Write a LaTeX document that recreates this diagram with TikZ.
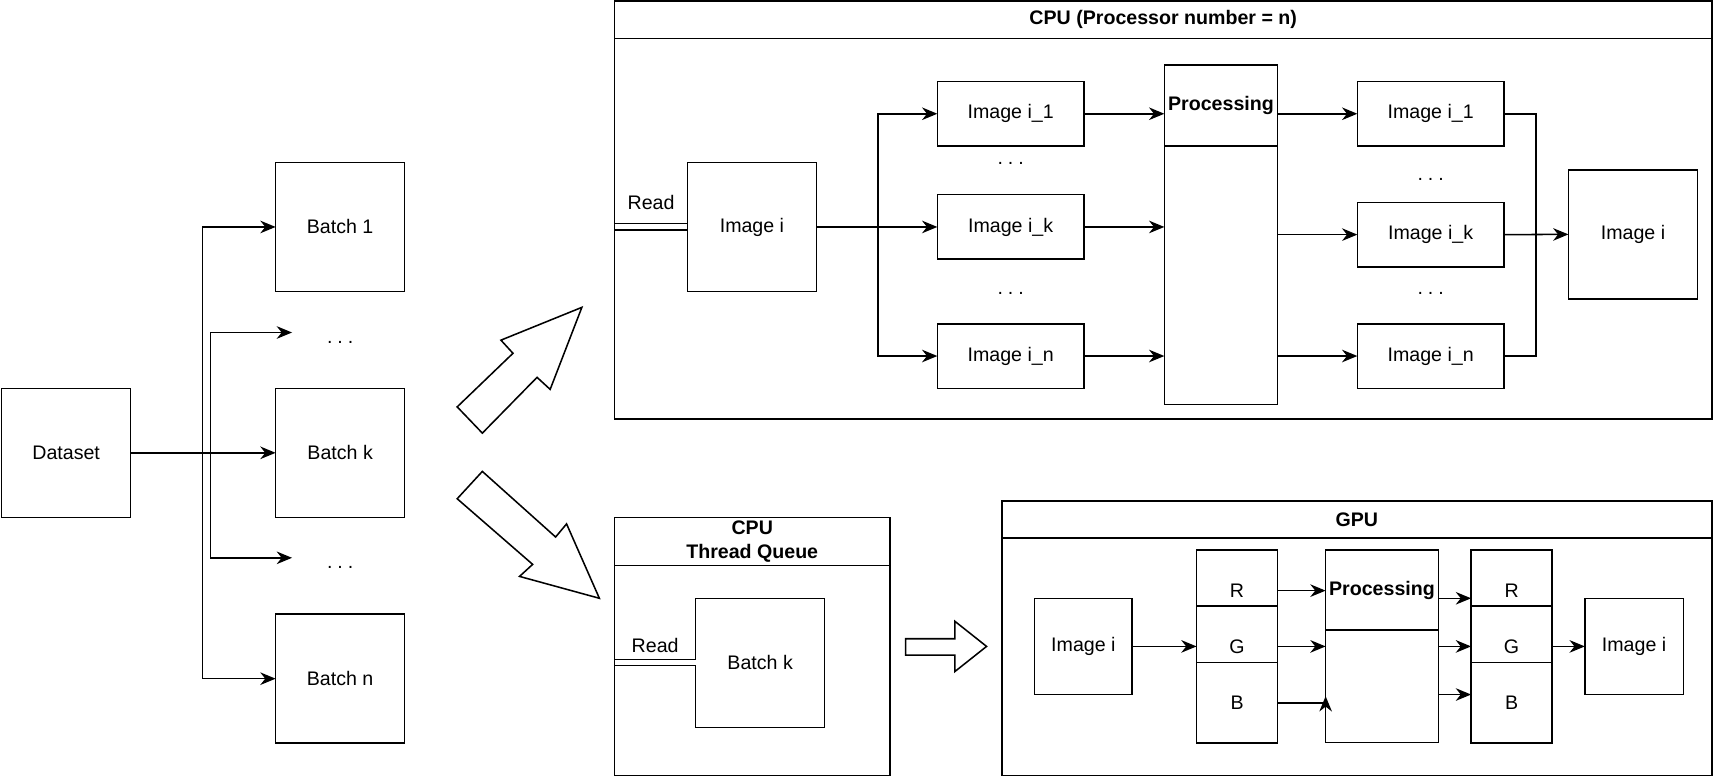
\documentclass[tikz,border=0pt]{standalone}
\usepackage{fontspec}
\setmainfont{Liberation Sans}
\usetikzlibrary{arrows.meta,positioning}
\newcommand{\diafont}{\fontsize{10.2}{12.5}\selectfont}
\newcommand{\threedots}{.\hspace{0.25em}.\hspace{0.25em}.}
\begin{document}
\begin{tikzpicture}[x=0.2mm,y=-0.2mm,
	every path/.style={line width=0.8pt},
	>={Stealth[length=2.8mm,width=2.3mm,inset=0.9mm]},
	box/.style={draw,fill=white,inner sep=0pt,outer sep=0pt,font=\diafont},
	sq/.style={box,minimum width=23.6mm,minimum height=23.6mm},
	slim/.style={box,minimum width=26.8mm,minimum height=11.8mm},
	chan/.style={box,minimum width=14.8mm,minimum height=14.8mm},
	head/.style={box,font=\diafont\bfseries,align=center},
	dots/.style={font=\diafont,inner sep=0pt},
	lbl/.style={font=\diafont},
	readline/.style={double,double distance=0.9mm,line width=0.6pt},
	hollow/.style={draw,fill=white,line join=miter}]
	\useasboundingbox (0,0) rectangle (1568,710.4);
	\node[sq] (dataset) at (60.5,414) {Dataset};
	\node[sq] (batch1) at (311,207.5) {Batch 1};
	\node[sq] (batchk) at (311,414) {Batch k};
	\node[sq] (batchn) at (311,620.5) {Batch n};
	\node[dots] (ldotsa) at (311,313) {\threedots};
	\node[dots] (ldotsb) at (311,519) {\threedots};
	\coordinate (tipa) at (267,304);
	\coordinate (tipb) at (267,510);
	\draw[->] (dataset.east) -- ++(65.5,0) |- (batch1.west);
	\draw[->] (dataset.east) -- ++(73,0) |- (tipa);
	\draw[->] (dataset.east) -- (batchk.west);
	\draw[->] (dataset.east) -- ++(73,0) |- (tipb);
	\draw[->] (dataset.east) -- ++(65.5,0) |- (batchn.west);
	\draw[hollow] (418,372) -- (469,323) -- (458,311) -- (532,281) -- (503,356) -- (491,345) -- (441,396) -- cycle;
	\draw[hollow] (418,456) -- (487,516) -- (475,527) -- (548,547) -- (518,479) -- (508,491) -- (441,431) -- cycle;
	\node[head,minimum width=200.6mm,minimum height=6.8mm] (cpuhead) at (1063.5,18) {CPU (Processor number = n)};
	\node[box,minimum width=200.6mm,minimum height=69.6mm,below=0pt of cpuhead] (cpubody) {};
	\node[sq] (imgi) at (687.5,207.5) {Image i};
	\draw[readline] (imgi.west -| cpubody.west) -- (imgi.west) node[lbl,midway,above=1.8mm] {Read};
	\node[slim] (i1) at (924,104) {Image i\_1};
	\node[slim] (ik) at (924,207.5) {Image i\_k};
	\node[slim] (in) at (924,325.5) {Image i\_n};
	\node[dots] (tdotsa) at (924,149) {\threedots};
	\node[dots] (tdotsb) at (924,268) {\threedots};
	\draw[->] (imgi.east) -- ++(56,0) |- (i1.west);
	\draw[->] (imgi.east) -- (ik.west);
	\draw[->] (imgi.east) -- ++(56,0) |- (in.west);
	\node[head,minimum width=20.7mm,minimum height=14.8mm] (proc) at (1116.3,96.5) {Processing};
	\node[box,minimum width=20.7mm,minimum height=47.3mm,below=0pt of proc] (procb) {};
	\draw[->] (i1.east) -- (i1.east -| proc.west);
	\draw[->] (ik.east) -- (ik.east -| procb.west);
	\draw[->] (in.east) -- (in.east -| procb.west);
	\node[slim] (o1) at (1308,104) {Image i\_1};
	\node[slim] (ok) at (1308,214.5) {Image i\_k};
	\node[slim] (on) at (1308,325.5) {Image i\_n};
	\node[dots] (odotsa) at (1308,164.5) {\threedots};
	\node[dots] (odotsb) at (1308,268) {\threedots};
	\draw[->] (o1.west -| proc.east) -- (o1.west);
	\draw[->] (ok.west -| procb.east) -- (ok.west);
	\draw[->] (on.west -| procb.east) -- (on.west);
	\node[sq] (imgo) at (1493,214.3) {Image i};
	\draw (o1.east) -- ++(29.5,0) |- (on.east);
	\draw[->] (ok.east) -- (imgo.west);
	\node[head,minimum width=50.3mm,minimum height=8.8mm] (tqhead) at (687.75,495) {CPU\\Thread Queue};
	\node[box,minimum width=50.3mm,minimum height=38.4mm,below=0pt of tqhead] (tqbody) {};
	\node[sq] (batchq) at (695,606) {Batch k};
	\draw[readline] (batchq.west -| tqbody.west) -- (batchq.west) node[lbl,midway,above=0.5mm] {Read};
	\draw[hollow] (828,584) -- (873,584) -- (873,568) -- (902,591) -- (873,614) -- (873,599) -- (828,599) -- cycle;
	\node[head,minimum width=129.8mm,minimum height=6.8mm] (gpuhead) at (1240.5,475) {GPU};
	\node[box,minimum width=129.8mm,minimum height=43.4mm,below=0pt of gpuhead] (gpubody) {};
	\node[box,minimum width=17.8mm,minimum height=17.6mm] (gimg) at (990.5,591) {Image i};
	\node[chan] (r1) at (1131,540) {R};
	\node[chan] (g1) at (1131,591) {G};
	\node[chan] (b1) at (1131,642.5) {B};
	\node[head,minimum width=20.6mm,minimum height=14.6mm] (gproc) at (1263.5,539.5) {Processing};
	\node[box,minimum width=20.6mm,minimum height=20.6mm,below=0pt of gproc] (gprocb) {};
	\node[chan] (r2) at (1382,540) {R};
	\node[chan] (g2) at (1382,591) {G};
	\node[chan] (b2) at (1382,642.5) {B};
	\node[box,minimum width=18mm,minimum height=17.6mm] (gimgo) at (1494,591) {Image i};
	\draw[->] (gimg.east) -- (g1.west);
	\draw[->] (r1.east) -- (r1.east -| gproc.west);
	\draw[->] (g1.east) -- (g1.east -| gprocb.west);
	\draw[->] (b1.east) -- (b1.east -| gprocb.west) -- ++(0,-6);
	\coordinate (r2in) at ([yshift=-1.4mm]r2.west);
	\coordinate (b2in) at ([yshift=1.5mm]b2.west);
	\draw[->] (r2in -| gproc.east) -- (r2in);
	\draw[->] (g2.west -| gprocb.east) -- (g2.west);
	\draw[->] (b2in -| gprocb.east) -- (b2in);
	\draw[->] (g2.east) -- (gimgo.west);
\end{tikzpicture}
\end{document}
